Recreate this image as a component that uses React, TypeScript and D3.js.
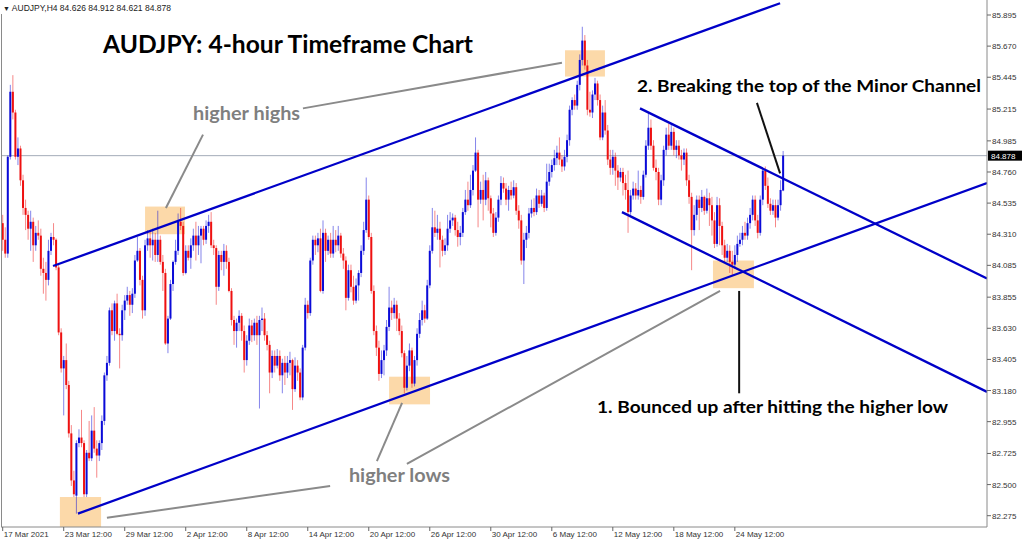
import React from 'react';
import * as d3 from 'd3';

// AUDJPY H4 candles, [open, high, low, close], 17 Mar 2021 12:00 onwards
const ohlc: [number, number, number, number][] = [
  [84.39,84.45,84.19,84.27],[84.27,84.36,84.14,84.17],[84.17,84.88,84.14,84.87],[84.87,85.39,84.85,85.34],
  [85.34,85.46,85.14,85.19],[85.19,85.21,84.85,84.87],[84.87,85.01,84.81,84.93],[84.93,84.95,84.66,84.70],
  [84.70,84.74,84.45,84.50],[84.50,84.56,84.34,84.45],[84.45,84.48,84.27,84.35],[84.35,84.48,84.19,84.40],
  [84.40,84.43,84.11,84.23],[84.23,84.37,84.19,84.32],[84.32,84.41,84.27,84.30],[84.30,84.35,84.01,84.06],
  [84.06,84.14,83.88,84.03],[84.03,84.11,83.83,83.98],[83.98,84.27,83.94,84.19],[84.19,84.32,84.16,84.29],
  [84.29,84.39,84.23,84.27],[84.27,84.28,84.05,84.07],[84.07,84.09,83.58,83.60],[83.60,83.63,83.31,83.34],
  [83.34,83.43,83.00,83.40],[83.40,83.52,83.19,83.22],[83.22,83.25,82.84,82.87],[82.87,82.93,82.49,82.53],
  [82.53,82.60,82.41,82.43],[82.42,82.82,82.29,82.80],[82.80,82.90,82.77,82.84],[82.84,83.04,82.77,82.80],
  [82.80,82.82,82.41,82.43],[82.43,82.75,82.41,82.73],[82.73,82.96,82.67,82.69],[82.69,83.00,82.67,82.89],
  [82.89,83.06,82.73,82.76],[82.76,82.82,82.55,82.71],[82.71,82.82,82.67,82.80],[82.80,83.00,82.75,82.96],
  [82.96,83.31,82.93,83.29],[83.29,83.43,83.25,83.38],[83.38,83.78,83.36,83.76],[83.76,83.81,83.58,83.61],
  [83.61,83.83,83.54,83.81],[83.81,83.88,83.58,83.59],[83.59,83.63,83.34,83.58],[83.58,83.80,83.54,83.76],
  [83.76,83.87,83.69,83.83],[83.83,83.93,83.80,83.87],[83.87,83.90,83.72,83.80],[83.80,83.92,83.74,83.88],
  [83.88,84.16,83.85,84.12],[84.12,84.29,84.11,84.19],[84.19,84.21,83.94,83.98],[83.98,84.01,83.70,83.76],
  [83.76,84.27,83.72,84.23],[84.23,84.34,84.19,84.28],[84.28,84.34,84.14,84.23],[84.23,84.35,84.12,84.27],
  [84.27,84.32,84.11,84.16],[84.16,84.48,84.11,84.27],[84.27,84.30,84.09,84.11],[84.11,84.16,83.90,84.03],
  [84.03,84.06,83.51,83.52],[83.52,83.72,83.45,83.70],[83.70,83.98,83.69,83.95],[83.95,84.12,83.90,84.11],
  [84.11,84.27,84.09,84.19],[84.19,84.46,84.16,84.40],[84.40,84.50,84.34,84.37],[84.37,84.40,84.01,84.03],
  [84.03,84.23,84.02,84.19],[84.19,84.23,84.12,84.14],[84.14,84.28,84.06,84.23],[84.23,84.35,84.19,84.30],
  [84.30,84.40,84.12,84.23],[84.23,84.37,84.16,84.30],[84.30,84.37,84.10,84.35],[84.35,84.37,84.23,84.27],
  [84.27,84.41,84.24,84.37],[84.37,84.45,84.32,84.40],[84.40,84.47,84.21,84.23],[84.23,84.27,84.16,84.21],
  [84.21,84.23,83.80,83.93],[83.93,84.19,83.90,84.16],[84.16,84.19,84.05,84.11],[84.11,84.24,84.01,84.19],
  [84.19,84.23,84.06,84.11],[84.11,84.14,83.89,83.90],[83.90,83.92,83.65,83.69],[83.69,83.72,83.51,83.61],
  [83.61,83.70,83.49,83.67],[83.67,83.76,83.61,83.72],[83.72,83.74,83.54,83.61],[83.61,83.65,83.31,83.40],
  [83.40,83.58,83.36,83.54],[83.54,83.70,83.51,83.65],[83.65,83.69,83.53,83.58],[83.58,83.70,83.54,83.67],
  [83.67,83.72,83.51,83.58],[83.58,83.72,83.05,83.69],[83.69,83.78,83.61,83.70],[83.70,83.74,83.54,83.58],
  [83.58,83.61,83.47,83.51],[83.51,83.54,83.16,83.31],[83.31,83.47,83.27,83.43],[83.43,83.47,83.31,83.36],
  [83.36,83.48,83.34,83.43],[83.43,83.47,83.25,83.29],[83.29,83.41,83.16,83.38],[83.38,83.43,83.22,83.31],
  [83.31,83.43,83.27,83.38],[83.38,83.46,83.29,83.40],[83.40,83.41,83.04,83.19],[83.19,83.42,83.17,83.36],
  [83.36,83.40,83.25,83.31],[83.31,83.34,83.11,83.13],[83.13,83.51,83.11,83.49],[83.49,83.85,83.47,83.80],
  [83.80,83.83,83.70,83.74],[83.74,84.14,83.72,84.12],[84.12,84.30,84.09,84.27],[84.27,84.30,84.16,84.23],
  [84.23,84.32,84.18,84.28],[84.28,84.35,83.89,83.90],[83.90,84.41,83.88,84.32],[84.32,84.35,84.11,84.19],
  [84.19,84.30,84.16,84.27],[84.27,84.32,84.14,84.17],[84.17,84.37,84.14,84.27],[84.27,84.34,84.18,84.23],
  [84.23,84.37,84.19,84.30],[84.30,84.32,84.14,84.17],[84.17,84.21,84.06,84.12],[84.12,84.15,83.76,83.85],
  [83.85,84.09,83.83,84.05],[84.05,84.09,83.89,83.93],[83.93,84.01,83.80,83.83],[83.83,83.99,83.81,83.94],
  [83.94,84.05,83.83,84.03],[84.03,84.23,84.00,84.19],[84.19,84.40,84.16,84.34],[84.34,84.72,84.32,84.56],
  [84.56,84.59,84.27,84.29],[84.29,84.32,83.88,83.90],[83.90,83.94,83.58,83.61],[83.61,83.65,83.43,83.49],
  [83.49,83.54,83.25,83.30],[83.30,83.47,83.27,83.40],[83.40,83.51,83.29,83.47],[83.47,83.69,83.43,83.64],
  [83.64,83.93,83.61,83.78],[83.78,83.83,83.69,83.74],[83.74,83.85,83.70,83.80],[83.80,83.83,83.61,83.70],
  [83.70,83.74,83.58,83.61],[83.61,83.65,83.42,83.45],[83.45,83.47,83.16,83.20],[83.20,83.43,83.18,83.36],
  [83.36,83.52,83.32,83.47],[83.47,83.49,83.20,83.23],[83.23,83.43,83.21,83.40],[83.40,83.63,83.36,83.59],
  [83.59,83.74,83.56,83.69],[83.69,83.83,83.65,83.76],[83.76,83.80,83.67,83.70],[83.70,83.98,83.69,83.94],
  [83.94,84.23,83.92,84.19],[84.19,84.50,84.17,84.36],[84.36,84.48,84.29,84.32],[84.32,84.45,84.27,84.35],
  [84.35,84.40,84.07,84.27],[84.27,84.30,84.15,84.19],[84.19,84.28,84.16,84.23],[84.23,84.45,84.19,84.35],
  [84.35,84.47,84.32,84.41],[84.41,84.46,84.37,84.43],[84.43,84.45,84.30,84.34],[84.34,84.40,84.22,84.29],
  [84.29,84.37,84.23,84.32],[84.32,84.50,84.29,84.47],[84.47,84.63,84.45,84.56],[84.56,84.69,84.48,84.52],
  [84.52,84.74,84.50,84.63],[84.63,84.81,84.59,84.77],[84.77,85.01,84.76,84.90],[84.90,84.92,84.36,84.56],
  [84.56,84.69,84.53,84.63],[84.63,84.74,84.41,84.56],[84.56,84.76,84.52,84.70],[84.70,84.72,84.48,84.57],
  [84.57,84.59,84.36,84.46],[84.46,84.50,84.29,84.32],[84.32,84.47,84.30,84.43],[84.43,84.59,84.40,84.56],
  [84.56,84.73,84.52,84.68],[84.68,84.72,84.61,84.64],[84.64,84.68,84.52,84.56],[84.56,84.66,84.48,84.63],
  [84.63,84.69,84.56,84.59],[84.59,84.70,84.57,84.65],[84.65,84.68,84.45,84.48],[84.48,84.52,84.35,84.41],
  [84.41,84.45,84.09,84.12],[84.12,84.32,83.95,84.27],[84.27,84.37,84.21,84.32],[84.32,84.50,84.28,84.46],
  [84.46,84.56,84.43,84.50],[84.50,84.57,84.44,84.47],[84.47,84.64,84.45,84.59],[84.59,84.63,84.50,84.53],
  [84.53,84.63,84.51,84.59],[84.59,84.61,84.47,84.50],[84.50,84.82,84.48,84.69],[84.69,84.82,84.66,84.76],
  [84.76,84.85,84.72,84.81],[84.81,84.92,84.77,84.86],[84.86,84.95,84.81,84.90],[84.90,85.01,84.81,84.85],
  [84.85,84.88,84.76,84.80],[84.80,84.92,84.77,84.87],[84.87,85.03,84.83,84.99],[84.99,85.24,84.95,85.21],
  [85.21,85.30,85.17,85.28],[85.28,85.32,85.21,85.24],[85.24,85.42,85.21,85.39],[85.39,85.61,85.35,85.57],
  [85.57,85.81,85.53,85.71],[85.71,85.75,85.50,85.53],[85.53,85.57,85.17,85.21],[85.21,85.34,85.16,85.19],
  [85.19,85.35,85.15,85.32],[85.32,85.44,85.28,85.40],[85.40,85.42,85.24,85.28],[85.28,85.32,84.99,85.01],
  [85.01,85.24,84.99,85.19],[85.19,85.28,85.03,85.06],[85.06,85.10,84.81,84.85],[84.85,84.92,84.74,84.79],
  [84.79,84.92,84.74,84.87],[84.87,84.90,84.66,84.77],[84.77,84.81,84.63,84.72],[84.72,84.79,84.69,84.76],
  [84.76,84.79,84.59,84.68],[84.68,84.74,84.56,84.63],[84.63,84.77,84.32,84.47],[84.47,84.63,84.45,84.59],
  [84.59,84.69,84.56,84.64],[84.64,84.68,84.56,84.59],[84.59,84.77,84.56,84.63],[84.63,84.66,84.53,84.58],
  [84.58,84.77,84.56,84.74],[84.74,84.99,84.72,84.95],[84.95,85.19,84.92,85.08],[85.08,85.14,84.92,84.95],
  [84.95,84.99,84.77,84.79],[84.79,84.85,84.70,84.76],[84.76,84.79,84.52,84.56],[84.56,84.74,84.52,84.70],
  [84.70,84.95,84.66,84.92],[84.92,85.08,84.88,85.03],[85.03,85.11,84.92,84.95],[84.95,85.10,84.92,85.05],
  [85.05,85.08,84.88,84.92],[84.92,84.99,84.86,84.95],[84.95,84.99,84.85,84.88],[84.88,84.92,84.77,84.85],
  [84.85,84.93,84.81,84.90],[84.90,84.93,84.66,84.70],[84.70,84.74,84.53,84.58],[84.58,84.61,84.05,84.34],
  [84.34,84.52,84.30,84.45],[84.45,84.59,84.41,84.56],[84.56,84.59,84.34,84.50],[84.50,84.63,84.47,84.58],
  [84.58,84.59,84.45,84.48],[84.48,84.64,84.46,84.57],[84.57,84.61,84.37,84.52],[84.52,84.58,84.30,84.41],
  [84.41,84.47,84.21,84.24],[84.24,84.58,84.22,84.52],[84.52,84.57,84.23,84.37],[84.37,84.40,84.16,84.23],
  [84.23,84.27,84.11,84.14],[84.14,84.24,84.11,84.19],[84.19,84.23,84.03,84.11],[84.11,84.19,84.01,84.09],
  [84.09,84.23,84.06,84.16],[84.16,84.30,84.11,84.24],[84.24,84.32,84.22,84.27],[84.27,84.37,84.23,84.32],
  [84.32,84.40,84.27,84.30],[84.30,84.43,84.27,84.39],[84.39,84.50,84.35,84.45],[84.45,84.59,84.41,84.56],
  [84.56,84.59,84.37,84.41],[84.41,84.45,84.28,84.32],[84.32,84.59,84.30,84.56],[84.56,84.79,84.52,84.77],
  [84.77,84.80,84.63,84.66],[84.66,84.72,84.50,84.53],[84.53,84.57,84.45,84.48],[84.48,84.56,84.45,84.52],
  [84.52,84.56,84.36,84.43],[84.43,84.56,84.41,84.52],[84.52,84.70,84.48,84.63],[84.626,84.912,84.621,84.878],
];

// bar index of each time label (one label every 24 bars)
const dateLabels = [
  '17 Mar 2021', '23 Mar 12:00', '29 Mar 12:00', '2 Apr 12:00', '8 Apr 12:00', '14 Apr 12:00',
  '20 Apr 12:00', '26 Apr 12:00', '30 Apr 12:00', '6 May 12:00', '12 May 12:00', '18 May 12:00', '24 May 12:00',
];
const dateLabelBars = [0, 24, 48, 72, 96, 120, 144, 168, 192, 216, 240, 264, 288];

const priceTicks = [
  85.895, 85.670, 85.445, 85.215, 84.985, 84.760, 84.535, 84.310, 84.085,
  83.855, 83.630, 83.405, 83.180, 82.955, 82.725, 82.500, 82.275,
];

const lastPrice = 84.878;
const headerText = 'AUDJPY,H4  84.626 84.912 84.621 84.878';

// trend lines: [bar1, price1, bar2, price2]
const channelLines: [number, number, number, number][] = [
  [19.8, 84.08, 305.8, 85.98],
  [29.6, 82.29, 387.2, 84.68],
  [250.7, 85.22, 387.2, 83.99],
  [243.6, 84.47, 387.2, 83.17],
];

// highlighted zones: [bar1, bar2, priceTop, priceBottom]
const zones: [number, number, number, number][] = [
  [56.0, 71.7, 84.51, 84.31],
  [221.2, 236.9, 85.64, 85.45],
  [22.5, 38.7, 82.41, 82.19],
  [152.0, 168.1, 83.28, 83.08],
  [279.4, 295.5, 84.12, 83.92],
];

// grey pointers from the labels to the zones
const greyPointers: [number, number, number, number][] = [
  [78.8, 85.03, 64.2, 84.50],
  [118.1, 85.22, 220.0, 85.55],
  [128.8, 82.49, 41.0, 82.26],
  [147.2, 82.67, 157.1, 83.09],
  [159.0, 82.65, 282.2, 83.90],
];
const blackPointers: [number, number, number, number][] = [
  [296.7, 85.26, 305.8, 84.75],
  [289.7, 83.90, 289.7, 83.16],
];

const notes = [
  { text: 'higher highs', bar: 74.9, price: 85.135, grey: true, len: 107 },
  { text: 'higher lows', bar: 136.2, price: 82.521, grey: true, len: 101 },
  { text: '2. Breaking the top of the Minor Channel', bar: 249.5, price: 85.338, grey: false, len: 344 },
  { text: '1. Bounced up after hitting the higher low', bar: 233.8, price: 83.021, grey: false, len: 351 },
];

const W = 1024;
const H = 542;
const plotRight = 987;
const plotBottom = 527;

const UP = '#0b0bd8';
const DOWN = '#ee1111';

export default function App() {
  const x = d3.scaleLinear().domain([0, 387]).range([2.7, 986.5]);
  const y = d3.scaleLinear().domain([82.275, 85.895]).range([515.7, 15]);
  const axisFont = "'Liberation Sans', Arial, sans-serif";
  const noteFont = "Lato, 'Open Sans', sans-serif";

  return (
    <svg width={W} height={H} style={{ position: 'absolute', left: 0, top: 0, background: '#fff' }}>
      <defs>
        <clipPath id="plotClip">
          <rect x={1} y={0} width={plotRight - 1} height={plotBottom} />
        </clipPath>
      </defs>
      <rect width={W} height={H} fill="#fff" />

      <g clipPath="url(#plotClip)">
        {zones.map((z, i) => (
          <rect key={i} x={x(z[0])} y={y(z[2])} width={x(z[1]) - x(z[0])} height={y(z[3]) - y(z[2])}
            fill="#fcd9a9" />
        ))}
        <line x1={1} x2={plotRight} y1={y(lastPrice)} y2={y(lastPrice)} stroke="#a3abb8" strokeWidth={1} />
        {ohlc.map(([o, h, l, c], i) => {
          const up = c >= o;
          const col = up ? UP : DOWN;
          const cx = x(i);
          const top = y(Math.max(o, c));
          const bh = Math.max(1, y(Math.min(o, c)) - top);
          return (
            <g key={i}>
              <line x1={cx} x2={cx} y1={y(h)} y2={y(l)} stroke={col} strokeOpacity={0.5} strokeWidth={1} />
              <rect x={cx - 1} y={top} width={2} height={bh} fill={col} />
            </g>
          );
        })}
        {channelLines.map((t, i) => (
          <line key={i} x1={x(t[0])} y1={y(t[1])} x2={x(t[2])} y2={y(t[3])}
            stroke="#0000c8" strokeWidth={2.3} />
        ))}
      </g>

      {greyPointers.map((p, i) => (
        <line key={i} x1={x(p[0])} y1={y(p[1])} x2={x(p[2])} y2={y(p[3])} stroke="#8a8a8a" strokeWidth={2} />
      ))}
      {blackPointers.map((p, i) => (
        <line key={i} x1={x(p[0])} y1={y(p[1])} x2={x(p[2])} y2={y(p[3])} stroke="#111" strokeWidth={2} />
      ))}

      <text x={103} y={53} fontFamily={noteFont} fontWeight={700} fontSize={24} fill="#000"
        textLength={370} lengthAdjust="spacingAndGlyphs">AUDJPY: 4-hour Timeframe Chart</text>
      {notes.map((n, i) => (
        <text key={i} x={x(n.bar)} y={y(n.price)} fontFamily={noteFont} fontWeight={700}
          fontSize={n.grey ? 19 : 17} fill={n.grey ? '#7f7f7f' : '#000'}
          textLength={n.len} lengthAdjust="spacingAndGlyphs">{n.text}</text>
      ))}

      {/* frame */}
      <line x1={1.5} x2={1.5} y1={14} y2={plotBottom} stroke="#8a8a8a" />
      <line x1={plotRight} x2={plotRight} y1={0} y2={plotBottom} stroke="#8a8a8a" />
      <line x1={1} x2={plotRight} y1={plotBottom} y2={plotBottom} stroke="#8a8a8a" />

      <text x={3} y={10.5} fontFamily={axisFont} fontSize={8.5} fill="#222">
        <tspan fontSize={7}>▼</tspan> {headerText}
      </text>

      {priceTicks.map((v) => (
        <g key={v}>
          <line x1={plotRight} x2={plotRight + 4} y1={y(v)} y2={y(v)} stroke="#666" />
          <text x={plotRight + 5} y={y(v) + 3} fontFamily={axisFont} fontSize={8} fill="#333">{v.toFixed(3)}</text>
        </g>
      ))}
      <rect x={plotRight + 1} y={y(lastPrice) - 5} width={34} height={10} fill="#000" />
      <text x={plotRight + 4} y={y(lastPrice) + 3} fontFamily={axisFont} fontSize={8} fill="#fff">{lastPrice.toFixed(3)}</text>

      {dateLabels.map((d, i) => (
        <g key={d}>
          <line x1={x(dateLabelBars[i])} x2={x(dateLabelBars[i])} y1={plotBottom} y2={plotBottom + 4} stroke="#666" />
          <text x={x(dateLabelBars[i]) + 1} y={537} fontFamily={axisFont} fontSize={8} fill="#333">{d}</text>
        </g>
      ))}
    </svg>
  );
}
